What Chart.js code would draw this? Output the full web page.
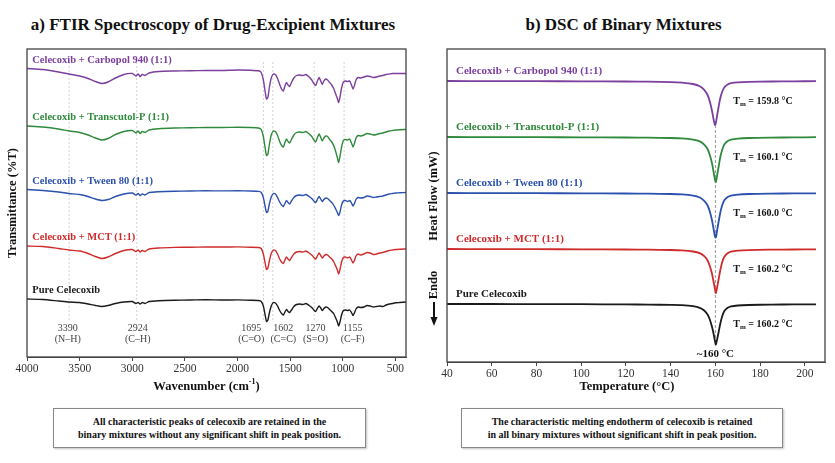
<!DOCTYPE html>
<html>
<head>
<meta charset="utf-8">
<script src="https://cdn.jsdelivr.net/npm/chart.js@4.4.1/dist/chart.umd.min.js"></script>
<style>
  body { margin: 0; background: #fff; width: 835px; height: 463px; overflow: hidden; position: relative; font-family: "Liberation Serif", "Times New Roman", serif; }
  canvas { position: absolute; top: 0; }
  .title { position: absolute; top: 15px; font-weight: bold; font-size: 17px; line-height: 20px; text-align: center; color: #111; }
  .note { position: absolute; top: 408px; height: 40px; box-sizing: border-box; border: 1px solid #888; box-shadow: 1px 1px 2px rgba(0,0,0,0.25);
          font-weight: bold; font-size: 10px; line-height: 13px; text-align: center; color: #111; padding-top: 6px; }
</style>
</head>
<body>
<div class="title" style="left:0;width:426px">a) FTIR Spectroscopy of Drug-Excipient Mixtures</div>
<div class="title" style="left:418px;width:411px">b) DSC of Binary Mixtures</div>
<canvas id="ftirChart" width="418" height="400" style="left:0"></canvas>
<canvas id="dscChart" width="417" height="400" style="left:418px"></canvas>
<div class="note" style="left:53px;width:313px">All characteristic peaks of celecoxib are retained in the<br>binary mixtures without any significant shift in peak position.</div>
<div class="note" style="left:461px;width:322px">The characteristic melting endotherm of celecoxib is retained<br>in all binary mixtures without significant shift in peak position.</div>
<script>
// ---- FTIR data (%T), top trace first
const wavenumbers = [
  4000, 3850, 3700, 3600, 3500, 3420, 3350, 3290, 3230, 3160,
  3080, 3000, 2965, 2945, 2925, 2905, 2880, 2840, 2750, 2600,
  2450, 2300, 2150, 2000, 1880, 1800, 1775, 1755, 1740, 1725,
  1712, 1698, 1680, 1660, 1640, 1620, 1600, 1582, 1565, 1550,
  1535, 1520, 1505, 1488, 1465, 1440, 1410, 1380, 1350, 1320,
  1295, 1275, 1258, 1240, 1225, 1210, 1195, 1180, 1162, 1145,
  1125, 1105, 1085, 1068, 1052, 1040, 1027, 1012, 995, 975,
  955, 935, 918, 903, 890, 875, 855, 830, 800, 770,
  740, 710, 680, 650, 620, 590, 560, 530, 500, 460,
  400
];
const ftirCarbopol = [
  93.5, 92.5, 90, 88, 86, 83.5, 80.5, 78.5, 80, 84,
  87.5, 88.5, 86, 88, 85.5, 87.5, 86.5, 89, 90.5, 91,
  91.3, 91.5, 91.5, 92, 91.8, 91.2, 89.5, 82, 72, 63,
  64.5, 74.5, 84, 88, 87.5, 83.5, 77.5, 73, 71, 76,
  79.5, 77, 75.5, 79.5, 84, 86.5, 87, 86.5, 87.5, 85,
  82, 78.5, 76.5, 81.5, 84.5, 81, 77.5, 81, 83, 82,
  79.5, 77, 73, 68, 63.5, 59.5, 65, 74, 80, 81,
  80.5, 81, 77, 73, 76.5, 82, 84.5, 84, 85, 86,
  85.5, 84.5, 85, 86, 86.5, 87.5, 88, 88.5, 88.5, 88.5,
  88.5
];
const ftirTranscutol = [
  93.5, 92.5, 90.5, 88.5, 87, 84.5, 81.5, 79.5, 81, 85,
  88, 89, 86.5, 88.5, 86, 88, 87, 89.5, 90.8, 91.5,
  91.8, 92, 92, 92.2, 92, 91.5, 90, 83, 73, 64,
  65.5, 75, 84.5, 88.5, 88, 84, 78, 74, 72.5, 77,
  80.5, 78, 76.5, 80, 84.5, 87, 87.5, 87, 88, 85.5,
  83, 79.5, 77.5, 82.5, 85.5, 82, 78.5, 81.5, 83.5, 83,
  80, 77.5, 73.5, 68, 62, 57, 63, 72.5, 79, 80,
  79.5, 80.5, 76.5, 72.5, 76, 81.5, 84, 83.5, 84.5, 86,
  85.5, 84.5, 85, 86, 86.5, 87.5, 88.5, 89, 89.5, 89.8,
  90
];
const ftirTween = [
  93.5, 92.5, 91, 89.5, 88.5, 86.5, 84, 82.5, 83.5, 86.5,
  89, 90, 88, 89.5, 87.5, 89, 88, 90.5, 91.3, 91.8,
  92, 92.2, 92.1, 92.2, 92, 91.6, 90.5, 85.5, 77.5, 70.5,
  71.5, 79, 86, 89.5, 89, 85.5, 81, 78, 76.5, 79.5,
  82.5, 80.5, 79, 82, 85.5, 87.5, 88, 87.5, 88.5, 86.5,
  84.5, 82, 80.5, 84, 86.5, 84, 81.5, 83.5, 85, 84.5,
  82.5, 80.5, 77.5, 74, 70.5, 67.5, 71, 78, 82, 82.5,
  81.5, 82.5, 80, 77, 79.5, 83.5, 85.5, 85, 85.5, 87,
  86.5, 85.5, 86, 86.5, 87, 88, 89, 89.5, 90, 90.2,
  90.5
];
const ftirMCT = [
  93, 92.5, 90.5, 89, 88, 85.5, 82.5, 80.5, 82, 85.5,
  88.5, 89.5, 87.5, 89, 87, 88.5, 87.5, 90, 91, 91.6,
  91.8, 92, 92, 92.1, 91.8, 91.5, 90.5, 85, 77, 69.5,
  71, 78, 85.5, 89, 88.5, 85, 80, 77, 75.5, 79,
  82, 80, 78.5, 81.5, 85, 87, 87.5, 87, 88, 86,
  84, 81.5, 80, 83.5, 86, 83.5, 81, 83, 84.5, 84,
  82, 80, 77, 73, 69, 65, 69.5, 77, 81.5, 82,
  81, 82, 79, 76, 78.5, 83, 85, 84, 85, 86.5,
  86, 84.5, 85, 86, 86.5, 87.5, 88.5, 89, 89.5, 89.8,
  90
];
const ftirPure = [
  93, 92.5, 91, 90, 89.5, 88, 86.5, 85.5, 86.5, 88.5,
  90, 90.5, 88.5, 89.5, 88, 89.5, 88.5, 90.5, 91.3, 91.8,
  92, 92.3, 92, 92.1, 91.8, 91.5, 90.5, 86, 78, 70.5,
  72, 79, 86, 89.5, 89, 86, 81.5, 78.5, 77, 80,
  82.5, 80.5, 79.5, 82, 85.5, 87.5, 88, 87.5, 88.5, 86.5,
  84.5, 82, 80.5, 84, 86, 84, 81.5, 83.5, 85, 84.5,
  82.5, 80.5, 78, 74, 70, 66, 70, 77, 81.5, 82,
  81.5, 82, 79.5, 76.5, 79, 83, 85, 84.5, 85, 86.5,
  86, 85, 85.5, 86, 85.5, 87, 88, 88.5, 89.2, 89.5,
  90
];
const ftirSeries = [ftirCarbopol, ftirTranscutol, ftirTween, ftirMCT, ftirPure];
const seriesNames = ["Celecoxib + Carbopol 940 (1:1)", "Celecoxib + Transcutol-P (1:1)", "Celecoxib + Tween 80 (1:1)", "Celecoxib + MCT (1:1)", "Pure Celecoxib"];
const ftirOffsets = [195, 137.5, 74, 18, -35];
const ftirTicks = [4000, 3500, 3000, 2500, 2000, 1500, 1000, 500];
const markerLines = [3600, 2958, 1755, 1665, 1272, 988];
const peakValues = ["3390", "2924", "1695", "1602", "1270", "1155"];
const peakGroups = ["(N\u2013H)", "(C\u2013H)", "(C=O)", "(C=C)", "(S=O)", "(C\u2013F)"];
const peakLabelX = [3613, 2948, 1870, 1565, 1260, 907];

// ---- DSC data (mW, endo down), top trace first
const temperatures = [
  40, 60, 80, 100, 120, 130, 140, 145, 150, 153,
  155, 156.5, 157.5, 158.5, 159.2, 159.8, 160.2, 160.8, 161.5, 162.2,
  163, 164, 165.5, 167, 170, 175, 185, 195, 205
];
const dscCarbopol = [0, -0.01, -0.02, -0.03, -0.05, -0.07, -0.11, -0.16, -0.3, -0.52,
  -0.88, -1.4, -2.05, -3.0, -3.85, -4.4, -4.2, -3.4, -2.5, -1.7,
  -1.1, -0.62, -0.34, -0.22, -0.14, -0.09, -0.05, -0.03, -0.02];
const dscTranscutol = [0, -0.01, -0.02, -0.03, -0.05, -0.07, -0.1, -0.14, -0.26, -0.44,
  -0.76, -1.2, -1.8, -2.65, -3.5, -4.25, -4.5, -3.8, -2.9, -2.0,
  -1.3, -0.75, -0.4, -0.26, -0.16, -0.1, -0.06, -0.04, -0.02];
const dscTween = [0, -0.01, -0.02, -0.03, -0.05, -0.07, -0.1, -0.14, -0.26, -0.45,
  -0.78, -1.25, -1.85, -2.75, -3.6, -4.35, -4.45, -3.7, -2.8, -1.95,
  -1.25, -0.72, -0.4, -0.26, -0.16, -0.1, -0.06, -0.04, -0.03];
const dscMCT = [0, -0.01, -0.02, -0.03, -0.05, -0.07, -0.1, -0.14, -0.25, -0.42,
  -0.72, -1.15, -1.7, -2.5, -3.3, -4.0, -4.4, -3.8, -2.95, -2.1,
  -1.35, -0.78, -0.42, -0.27, -0.17, -0.11, -0.07, -0.05, -0.04];
const dscPure = [0, 0, -0.01, -0.02, -0.04, -0.06, -0.09, -0.12, -0.22, -0.38,
  -0.65, -1.05, -1.55, -2.3, -3.0, -3.7, -4.05, -3.5, -2.75, -1.95,
  -1.25, -0.7, -0.38, -0.24, -0.15, -0.1, -0.06, -0.04, -0.03];
const dscSeries = [dscCarbopol, dscTranscutol, dscTween, dscMCT, dscPure];
const meltingPoints = ["159.8", "160.1", "160.0", "160.2", "160.2"];
const dscOffsets = [28.1, 22.5, 16.9, 11.3, 5.8];
const dscTicks = [40, 60, 80, 100, 120, 140, 160, 180, 200];

const seriesColors = ["#7b3f9e", "#2f8a3c", "#2b50ad", "#cf2b2b", "#1b1b1b"];
const SERIF = '"Liberation Serif", "Times New Roman", serif';

function drawBox(chart) {
  const { ctx, chartArea: a } = chart;
  ctx.save();
  ctx.strokeStyle = "#444";
  ctx.lineWidth = 1.3;
  ctx.strokeRect(a.left, a.top, a.right - a.left, a.bottom - a.top);
  ctx.restore();
}

const ftirDecor = {
  id: "ftirDecor",
  beforeDatasetsDraw(chart) {
    const { ctx, scales: { x, y } } = chart;
    ctx.save();
    ctx.strokeStyle = "#d2d2d2";
    ctx.lineWidth = 1;
    ctx.setLineDash([2, 2]);
    markerLines.forEach((w) => {
      const px = x.getPixelForValue(w);
      ctx.beginPath();
      ctx.moveTo(px, y.getPixelForValue(295));
      ctx.lineTo(px, y.getPixelForValue(35));
      ctx.stroke();
    });
    ctx.restore();
  },
  afterDraw(chart) {
    const { ctx, scales: { x, y } } = chart;
    drawBox(chart);
    ctx.save();
    ctx.textBaseline = "middle";
    // trace names
    ctx.font = "bold 10.5px " + SERIF;
    ctx.textAlign = "left";
    seriesNames.forEach((name, i) => {
      ctx.fillStyle = seriesColors[i];
      ctx.fillText(name, x.getPixelForValue(3950), y.getPixelForValue(ftirOffsets[i] + 102));
    });
    // peak labels
    ctx.font = "10px " + SERIF;
    ctx.fillStyle = "#444";
    ctx.textAlign = "center";
    peakValues.forEach((v, i) => {
      const px = x.getPixelForValue(peakLabelX[i]);
      ctx.fillText(v, px, y.getPixelForValue(29));
      ctx.fillText(peakGroups[i], px, y.getPixelForValue(18));
    });
    // x axis title with superscript
    ctx.fillStyle = "#111";
    ctx.font = "bold 12.5px " + SERIF;
    const main = "Wavenumber (cm";
    const wMain = ctx.measureText(main).width;
    ctx.font = "bold 8px " + SERIF;
    const wSup = ctx.measureText("-1").width;
    ctx.font = "bold 12.5px " + SERIF;
    const wEnd = ctx.measureText(")").width;
    let sx = 206.5 - (wMain + wSup + wEnd) / 2;
    ctx.textAlign = "left";
    ctx.fillText(main, sx, 387);
    ctx.font = "bold 8px " + SERIF;
    ctx.fillText("-1", sx + wMain, 382);
    ctx.font = "bold 12.5px " + SERIF;
    ctx.fillText(")", sx + wMain + wSup, 387);
    ctx.restore();
  }
};

const dscDecor = {
  id: "dscDecor",
  beforeDatasetsDraw(chart) {
    const { ctx, scales: { x, y } } = chart;
    ctx.save();
    ctx.strokeStyle = "#999";
    ctx.lineWidth = 1;
    ctx.setLineDash([3, 2]);
    const px = x.getPixelForValue(160);
    ctx.beginPath();
    ctx.moveTo(px, y.getPixelForValue(23.7));
    ctx.lineTo(px, y.getPixelForValue(1.7));
    ctx.stroke();
    ctx.restore();
  },
  afterDraw(chart) {
    const { ctx, scales: { x, y } } = chart;
    drawBox(chart);
    ctx.save();
    ctx.textBaseline = "middle";
    ctx.textAlign = "left";
    seriesNames.forEach((name, i) => {
      ctx.font = "bold 11px " + SERIF;
      ctx.fillStyle = seriesColors[i];
      ctx.fillText(name, x.getPixelForValue(44), y.getPixelForValue(dscOffsets[i] + 1.0));
      // Tm label
      ctx.fillStyle = "#111";
      const tx = x.getPixelForValue(168);
      const ty = y.getPixelForValue(dscOffsets[i] - 2.0);
      ctx.font = "bold 10px " + SERIF;
      ctx.fillText("T", tx, ty);
      const wT = ctx.measureText("T").width;
      ctx.font = "bold 7px " + SERIF;
      ctx.fillText("m", tx + wT, ty + 3);
      const wm = ctx.measureText("m").width;
      ctx.font = "bold 10px " + SERIF;
      ctx.fillText(" = " + meltingPoints[i] + " \u00B0C", tx + wT + wm, ty);
    });
    ctx.textAlign = "center";
    ctx.font = "bold 11px " + SERIF;
    ctx.fillStyle = "#111";
    ctx.fillText("~160 \u00B0C", x.getPixelForValue(160), y.getPixelForValue(0.8));
    // x axis title
    ctx.font = "bold 12.5px " + SERIF;
    ctx.fillText("Temperature (\u00B0C)", 209, 387);
    // y axis title with Endo arrow
    ctx.save();
    ctx.translate(16, 196);
    ctx.rotate(-Math.PI / 2);
    ctx.fillText("Heat Flow (mW)", 0, 0);
    ctx.restore();
    ctx.save();
    ctx.translate(16, 285);
    ctx.rotate(-Math.PI / 2);
    ctx.fillText("Endo", 0, 0);
    ctx.restore();
    ctx.strokeStyle = "#111";
    ctx.fillStyle = "#111";
    ctx.lineWidth = 2;
    ctx.beginPath();
    ctx.moveTo(16, 302);
    ctx.lineTo(16, 318);
    ctx.stroke();
    ctx.beginPath();
    ctx.moveTo(12.5, 317);
    ctx.lineTo(19.5, 317);
    ctx.lineTo(16, 326);
    ctx.closePath();
    ctx.fill();
    ctx.restore();
  }
};

const ftirDatasets = ftirSeries.map((s, i) => ({
  data: wavenumbers.map((w, j) => ({ x: w, y: s[j] + ftirOffsets[i] })),
  borderColor: seriesColors[i],
  borderWidth: 1.4,
  pointRadius: 0,
  tension: 0.2,
  fill: false
}));

const dscDatasets = dscSeries.map((s, i) => ({
  data: temperatures.map((t, j) => ({ x: t, y: s[j] + dscOffsets[i] })),
  borderColor: seriesColors[i],
  borderWidth: 1.8,
  pointRadius: 0,
  tension: 0.3,
  fill: false
}));

const tickFont = { family: SERIF, size: 11.5 };
const plainTick = (v) => String(v);

new Chart(document.getElementById("ftirChart"), {
  type: "line",
  data: { datasets: ftirDatasets },
  options: {
    responsive: false,
    animation: false,
    layout: { padding: { top: 49, right: 12, left: 0, bottom: 0 } },
    plugins: { legend: { display: false }, tooltip: { enabled: false } },
    scales: {
      x: {
        type: "linear", reverse: true, min: 400, max: 4000,
        afterBuildTicks: (s) => { s.ticks = ftirTicks.map((v) => ({ value: v })); },
        afterFit: (s) => { s.height = 43; },
        ticks: { font: tickFont, color: "#333", padding: 1, maxRotation: 0, autoSkip: false, callback: plainTick },
        grid: { drawOnChartArea: false, tickLength: 4, color: "#444" },
        border: { color: "#444" }
      },
      y: {
        min: 0, max: 308,
        afterFit: (s) => { s.width = 27; },
        ticks: { display: false },
        grid: { display: false },
        border: { display: false },
        title: { display: true, text: "Transmittance (%T)", color: "#111", font: { family: SERIF, size: 12.5, weight: "bold" }, padding: { top: 5, bottom: 0 } }
      }
    }
  },
  plugins: [ftirDecor]
});

new Chart(document.getElementById("dscChart"), {
  type: "line",
  data: { datasets: dscDatasets },
  options: {
    responsive: false,
    animation: false,
    layout: { padding: { top: 49, right: 10, left: 0, bottom: 0 } },
    plugins: { legend: { display: false }, tooltip: { enabled: false } },
    scales: {
      x: {
        type: "linear", min: 40, max: 209,
        afterBuildTicks: (s) => { s.ticks = dscTicks.map((v) => ({ value: v })); },
        afterFit: (s) => { s.height = 38; },
        ticks: { font: tickFont, color: "#333", padding: 1, maxRotation: 0, autoSkip: false, callback: plainTick },
        grid: { drawOnChartArea: false, tickLength: 4, color: "#444" },
        border: { color: "#444" }
      },
      y: {
        min: 0, max: 31.3,
        afterFit: (s) => { s.width = 29; },
        ticks: { display: false },
        grid: { display: false },
        border: { display: false }
      }
    }
  },
  plugins: [dscDecor]
});
</script>
</body>
</html>
